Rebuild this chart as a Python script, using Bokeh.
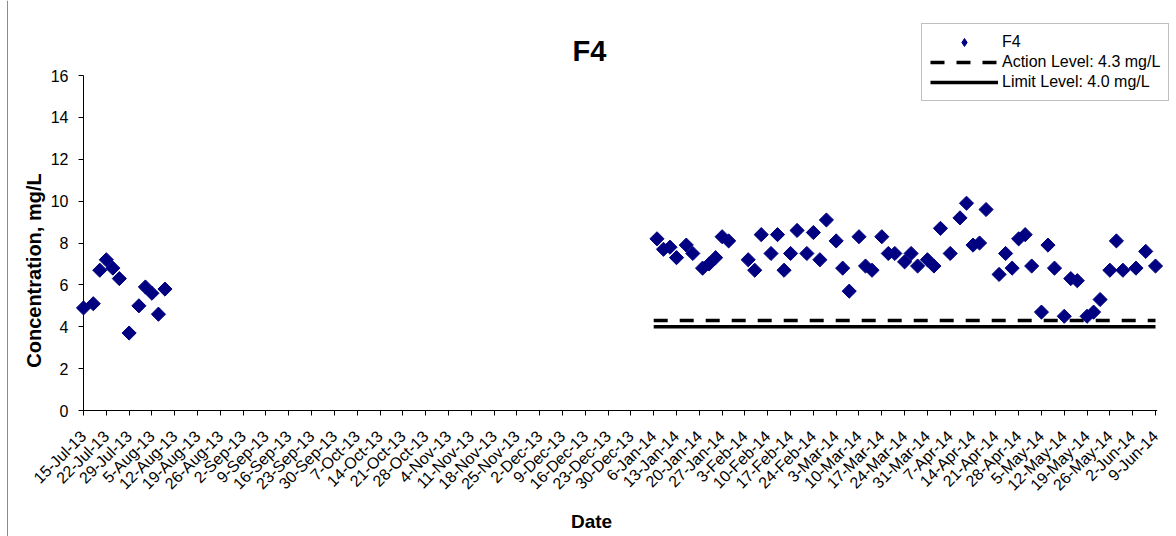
import math
import pandas as pd
from bokeh.plotting import figure
from bokeh.models import (Range1d, FixedTicker, Legend, LegendItem, Label,
                          ColumnDataSource, Span)
from bokeh.embed import file_html
from bokeh.resources import INLINE

FONT = "Liberation Sans"

chart_title = "F4"
x_title = "Date"
y_title = "Concentration, mg/L"
series_name = "F4"

sample_dates = [
    "15-Jul-13", "18-Jul-13", "20-Jul-13", "22-Jul-13", "24-Jul-13", "26-Jul-13",
    "29-Jul-13", "1-Aug-13", "3-Aug-13", "5-Aug-13", "7-Aug-13", "9-Aug-13",
    "7-Jan-14", "9-Jan-14", "11-Jan-14", "13-Jan-14", "16-Jan-14", "18-Jan-14",
    "21-Jan-14", "23-Jan-14", "25-Jan-14", "27-Jan-14", "29-Jan-14",
    "4-Feb-14", "6-Feb-14", "8-Feb-14", "11-Feb-14", "13-Feb-14", "15-Feb-14",
    "17-Feb-14", "19-Feb-14", "22-Feb-14", "24-Feb-14", "26-Feb-14", "28-Feb-14",
    "3-Mar-14", "5-Mar-14", "7-Mar-14", "10-Mar-14", "12-Mar-14", "14-Mar-14",
    "17-Mar-14", "19-Mar-14", "21-Mar-14", "24-Mar-14", "26-Mar-14", "28-Mar-14",
    "31-Mar-14", "2-Apr-14", "4-Apr-14", "7-Apr-14", "10-Apr-14", "12-Apr-14",
    "14-Apr-14", "16-Apr-14", "18-Apr-14", "22-Apr-14", "24-Apr-14", "26-Apr-14",
    "28-Apr-14", "30-Apr-14", "2-May-14", "5-May-14", "7-May-14", "9-May-14",
    "12-May-14", "14-May-14", "16-May-14", "19-May-14", "21-May-14", "23-May-14",
    "26-May-14", "28-May-14", "30-May-14", "3-Jun-14", "6-Jun-14", "9-Jun-14",
]
concentration = [
    4.9, 5.1, 6.7, 7.2, 6.8, 6.3,
    3.7, 5.0, 5.9, 5.6, 4.6, 5.8,
    8.2, 7.7, 7.8, 7.3, 7.9, 7.5,
    6.8, 7.0, 7.3, 8.3, 8.1,
    7.2, 6.7, 8.4, 7.5, 8.4, 6.7,
    7.5, 8.6, 7.5, 8.5, 7.2, 9.1,
    8.1, 6.8, 5.7, 8.3, 6.9, 6.7,
    8.3, 7.5, 7.5, 7.1, 7.5, 6.9,
    7.2, 6.9, 8.7, 7.5, 9.2, 9.9,
    7.9, 8.0, 9.6, 6.5, 7.5, 6.8,
    8.2, 8.4, 6.9, 4.7, 7.9, 6.8,
    4.5, 6.3, 6.2, 4.5, 4.7, 5.3,
    6.7, 8.1, 6.7, 6.8, 7.6, 6.9,
]

action_level = 4.3
limit_level = 4.0
action_label = "Action Level: 4.3 mg/L"
limit_label = "Limit Level: 4.0 mg/L"
level_dates = ["6-Jan-14", "9-Jun-14"]

x_tick_labels = [
    "15-Jul-13", "22-Jul-13", "29-Jul-13", "5-Aug-13", "12-Aug-13", "19-Aug-13",
    "26-Aug-13", "2-Sep-13", "9-Sep-13", "16-Sep-13", "23-Sep-13", "30-Sep-13",
    "7-Oct-13", "14-Oct-13", "21-Oct-13", "28-Oct-13", "4-Nov-13", "11-Nov-13",
    "18-Nov-13", "25-Nov-13", "2-Dec-13", "9-Dec-13", "16-Dec-13", "23-Dec-13",
    "30-Dec-13", "6-Jan-14", "13-Jan-14", "20-Jan-14", "27-Jan-14", "3-Feb-14",
    "10-Feb-14", "17-Feb-14", "24-Feb-14", "3-Mar-14", "10-Mar-14", "17-Mar-14",
    "24-Mar-14", "31-Mar-14", "7-Apr-14", "14-Apr-14", "21-Apr-14", "28-Apr-14",
    "5-May-14", "12-May-14", "19-May-14", "26-May-14", "2-Jun-14", "9-Jun-14",
]
y_ticks = [0, 2, 4, 6, 8, 10, 12, 14, 16]

origin = pd.to_datetime(x_tick_labels[0], format="%d-%b-%y")


def to_day(s):
    return int((pd.to_datetime(s, format="%d-%b-%y") - origin).days)


sample_days = [to_day(s) for s in sample_dates]
tick_days = [to_day(s) for s in x_tick_labels]
level_days = [to_day(s) for s in level_dates]

# ---- layout (pixels) ----
W, H = 1176, 536
AX_X = 83            # pixel of the y axis (first date tick)
AX_X_END = 1155      # pixel of the last date tick
AX_Y = 410           # pixel of y = 0
AX_Y_TOP = 75        # pixel of y = top tick
px_day = (AX_X_END - AX_X) / (tick_days[-1] - tick_days[0])
px_unit = (AX_Y - AX_Y_TOP) / (y_ticks[-1] - y_ticks[0])
x_range = Range1d(tick_days[0] - AX_X / px_day, tick_days[0] + (W - AX_X) / px_day)
y_range = Range1d(y_ticks[0] - (H - AX_Y) / px_unit, y_ticks[0] + AX_Y / px_unit)

p = figure(width=W, height=H, output_backend="svg", toolbar_location=None,
           x_range=x_range, y_range=y_range, min_border=0)
p.title.visible = False
p.background_fill_color = "white"
p.border_fill_color = "white"
p.outline_line_color = None
p.xgrid.visible = False
p.ygrid.visible = False

# chart border on the left
p.add_layout(Span(location=x_range.start + 7 / px_day, dimension="height",
                  line_color="#8c8c8c", line_width=1))

# axis lines (from first to last tick)
p.segment(x0=[tick_days[0], tick_days[0]], y0=[y_ticks[0], y_ticks[0]],
          x1=[tick_days[-1] + 0.5, tick_days[0]], y1=[y_ticks[0], y_ticks[-1]],
          line_color="black", line_width=1)

al = p.line(level_days, [action_level] * len(level_days), line_color="black",
            line_width=3.5, line_dash="14 12")
ll = p.line(level_days, [limit_level] * len(level_days), line_color="black",
            line_width=3.5)
src = ColumnDataSource(dict(x=sample_days, y=concentration))
sc = p.scatter("x", "y", source=src, marker="square", size=10, angle=math.pi / 4,
               fill_color="#000080", line_color="#000080")
# same series, used only for the legend symbol (diamond)
sc_leg = p.scatter("x", "y", source=src, marker="diamond", size=10,
                   fill_color="#000080", line_color="#000080", visible=False)

# axes fixed at the data origin
p.xaxis.fixed_location = y_ticks[0]
p.yaxis.fixed_location = tick_days[0]
p.xaxis.ticker = FixedTicker(ticks=tick_days)
p.xaxis.major_label_overrides = {d: lab for d, lab in zip(tick_days, x_tick_labels)}
p.xaxis.major_label_orientation = math.pi / 4
p.yaxis.ticker = FixedTicker(ticks=y_ticks)
for ax in (p.xaxis, p.yaxis):
    ax.major_label_text_font = FONT
    ax.major_label_text_font_size = "16px"
    ax.major_label_text_color = "black"
    ax.axis_line_color = None
    ax.major_tick_line_color = "black"
    ax.major_tick_out = 5
    ax.major_tick_in = 0
    ax.minor_tick_line_color = None
p.xaxis.major_label_standoff = 18
p.yaxis.major_label_standoff = 10

legend = Legend(
    items=[LegendItem(label=series_name, renderers=[sc_leg]),
           LegendItem(label=action_label, renderers=[al]),
           LegendItem(label=limit_label, renderers=[ll])],
    location=(921, H - 101), orientation="vertical",
    glyph_width=68, glyph_height=20, label_height=20, label_width=20,
    spacing=0, padding=8, margin=0, label_standoff=4,
    label_text_font=FONT, label_text_font_size="16px", label_text_color="black",
    border_line_color="#7f7f7f", border_line_width=1,
    background_fill_color="white", background_fill_alpha=1.0,
    inactive_fill_alpha=0.0)
p.add_layout(legend)

p.add_layout(Label(x=589, y=H - 50, x_units="screen", y_units="screen", text=chart_title,
                   text_font=FONT, text_font_size="29px", text_font_style="bold",
                   text_align="center", text_baseline="middle", text_color="black"))
p.add_layout(Label(x=591, y=H - 521, x_units="screen", y_units="screen", text=x_title,
                   text_font=FONT, text_font_size="19px", text_font_style="bold",
                   text_align="center", text_baseline="middle", text_color="black"))
p.add_layout(Label(x=33, y=H - 270, x_units="screen", y_units="screen", text=y_title,
                   angle=math.pi / 2,
                   text_font=FONT, text_font_size="20px", text_font_style="bold",
                   text_align="center", text_baseline="middle", text_color="black"))

open("out.html", "w").write(file_html(p, INLINE))
